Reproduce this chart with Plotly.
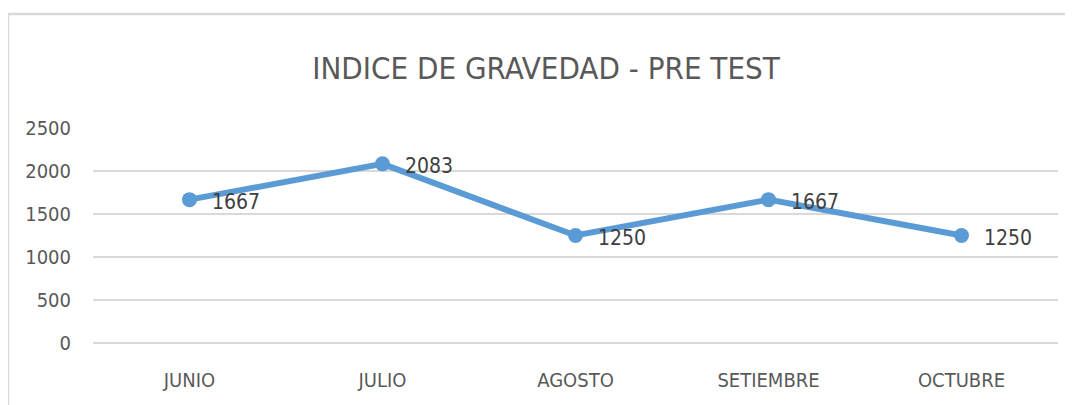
import plotly.graph_objects as go

months = ["JUNIO", "JULIO", "AGOSTO", "SETIEMBRE", "OCTUBRE"]
values = [1667, 2083, 1250, 1667, 1250]
y_ticks = [0, 500, 1000, 1500, 2000, 2500]
title_text = "INDICE DE GRAVEDAD - PRE TEST"

FONT = "DejaVu Sans Condensed, DejaVu Sans, sans-serif"
OFF = 8  # page body margin
SCREEN_W, SCREEN_H = 1073, 405
W, H = SCREEN_W - OFF, SCREEN_H - OFF
# plot area in screen pixels: x 93..1058, y 128..343
L, R, T, B = 93 - OFF, SCREEN_W - 1058, 128 - OFF, SCREEN_H - 343
pw, ph = W - L - R, H - T - B

def px_x(x):
    return (x - OFF - L) / pw

def px_y(y):
    return (H - B - (y - OFF)) / ph

fig = go.Figure()
fig.add_trace(go.Scatter(
    x=months, y=values,
    mode="lines+markers",
    line=dict(color="#5B9BD5", width=6),
    marker=dict(color="#5B9BD5", size=15),
    showlegend=False,
))

annotations = [
    dict(x=m, y=v, xref="x", yref="y", text=str(v), showarrow=False,
         xanchor="left", yanchor="middle", xshift=20, yshift=-2,
         font=dict(family=FONT, size=21, color="#404040"))
    for m, v in zip(months, values)
]

grid = "#D9D9D9"
fig.update_layout(
    width=W, height=H,
    margin=dict(l=L, r=R, t=T, b=B),
    paper_bgcolor="white", plot_bgcolor="white",
    title=dict(text=title_text, x=(546 - OFF) / W, xref="container", xanchor="center",
               y=1 - (68 - OFF) / H, yref="container", yanchor="middle",
               font=dict(family=FONT, size=31, color="#595959")),
    xaxis=dict(range=[-0.5, 4.5], showgrid=False, zeroline=False, showline=False,
               ticks="", tickfont=dict(family=FONT, size=20, color="#595959"),
               ticklabelstandoff=23),
    yaxis=dict(range=[0, 2500], tickvals=y_ticks, showgrid=True, gridcolor=grid,
               gridwidth=2, zeroline=True, zerolinecolor=grid, zerolinewidth=2,
               showline=False, ticks="",
               tickfont=dict(family=FONT, size=20, color="#595959"),
               ticklabelstandoff=21),
    annotations=annotations,
    shapes=[
        dict(type="line", xref="paper", yref="paper", x0=px_x(8), x1=px_x(SCREEN_W + 10),
             y0=px_y(14), y1=px_y(14), line=dict(color=grid, width=2.5)),
        dict(type="line", xref="paper", yref="paper", x0=px_x(8), x1=px_x(8),
             y0=px_y(14), y1=px_y(SCREEN_H + 10), line=dict(color=grid, width=2.5)),
    ],
)

fig.write_html("out.html")
